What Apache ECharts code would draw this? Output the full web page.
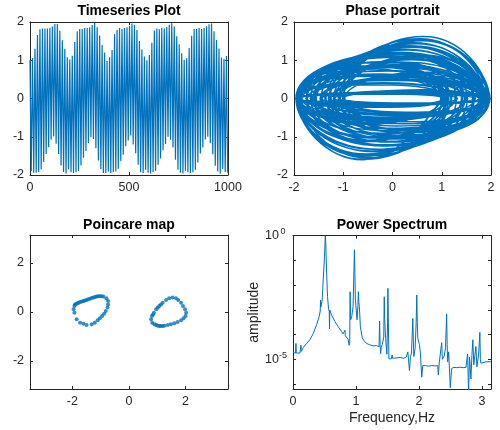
<!DOCTYPE html>
<html>
<head>
<meta charset="utf-8">
<script src="https://cdn.jsdelivr.net/npm/echarts@6/dist/echarts.min.js"></script>
<style>
html, body { margin: 0; padding: 0; background: #fff; }
#main { width: 500px; height: 430px; }
</style>
</head>
<body>
<div id="main"></div>
<script>
// timeseries: one value per half cycle (max / min), sampled every halfPeriod
const halfPeriod = 6.28;
const peakX = [
  1.00,-1.90,1.06,-1.94,1.30,-1.94,1.66,-1.92,1.81,-1.85,1.83,-1.66,1.83,-1.45,1.83,-1.27,1.85,-1.08,1.88,-0.99,1.95,-1.18,1.95,-1.45,1.77,-1.75,1.52,-1.92,1.30,-1.96,1.08,
  -1.85,1.02,-1.93,1.12,-1.95,1.48,-1.93,1.76,-1.90,1.82,-1.75,1.82,-1.55,1.84,-1.37,1.84,-1.17,1.86,-1.01,1.92,-1.06,1.98,-1.30,1.86,-1.62,1.65,-1.85,1.40,-1.95,1.20,-1.95,
  0.98,-1.91,1.08,-1.95,1.27,-1.93,1.68,-1.91,1.80,-1.84,1.84,-1.64,1.82,-1.47,1.84,-1.25,1.86,-1.10,1.90,-0.97,1.96,-1.20,1.93,-1.43,1.79,-1.73,1.50,-1.93,1.28,-1.95,1.10,
  -1.86,1.00,-1.94,1.14,-1.96,1.46,-1.92,1.78,-1.89,1.83,-1.73,1.81,-1.57,1.85,-1.35,1.83,-1.19,1.87,-1.00,1.93,-1.08,1.97,-1.28,1.88,-1.60,1.63,-1.86,1.42,-1.94,1.18,-1.96,
  1.01,-1.89,1.05,-1.93,1.32,-1.95,1.64,-1.93,1.82,-1.86,1.82,-1.67,1.84,-1.44,1.82,-1.28,1.84,-1.07,1.89,-1.00,1.94,-1.17,1.96,-1.46,1.76,-1.76,1.53,-1.91,1.31,-1.97,1.07,
  -1.84,1.03,-1.92,1.11,-1.94
];
// value between two extremes, and the velocity there
const midX = [
  -0.60,-0.27,-0.59,-0.17,-0.47,0.01,-0.28,0.09,-0.17,0.14,-0.07,0.24,0.04,0.34,0.13,0.44,0.24,0.55,0.30,0.63,0.24,0.54,0.10,0.31,-0.14,0.03,-0.35,-0.16,-0.48,-0.29,-0.53,
  -0.27,-0.61,-0.26,-0.57,-0.09,-0.38,0.07,-0.22,0.11,-0.12,0.19,-0.02,0.30,0.09,0.39,0.19,0.50,0.28,0.61,0.28,0.61,0.19,0.43,-0.03,0.17,-0.25,-0.08,-0.43,-0.23,-0.53,-0.33,
  -0.60,-0.27,-0.59,-0.17,-0.47,0.01,-0.28,0.09,-0.17,0.14,-0.07,0.24,0.04,0.34,0.13,0.44,0.24,0.55,0.30,0.63,0.24,0.54,0.10,0.31,-0.14,0.03,-0.35,-0.16,-0.48,-0.29,-0.53,
  -0.27,-0.61,-0.26,-0.57,-0.09,-0.38,0.07,-0.22,0.11,-0.12,0.19,-0.02,0.30,0.09,0.39,0.19,0.50,0.28,0.61,0.28,0.61,0.19,0.43,-0.03,0.17,-0.25,-0.08,-0.43,-0.23,-0.53,-0.33,
  -0.60,-0.27,-0.59,-0.17,-0.47,0.01,-0.28,0.09,-0.17,0.14,-0.07,0.24,0.04,0.34,0.13,0.44,0.24,0.55,0.30,0.63,0.24,0.54,0.10,0.31,-0.14,0.03,-0.35,-0.16,-0.48,-0.29,-0.53,
  -0.27,-0.61,-0.26,-0.57
];
const midV = [
  -1.60,0.86,-1.59,0.94,-1.49,1.10,-1.33,1.18,-1.24,1.21,-1.14,1.29,-1.06,1.38,-0.99,1.46,-0.89,1.56,-0.84,1.62,-0.89,1.55,-1.01,1.36,-1.21,1.12,-1.39,0.95,-1.49,0.85,-1.55,
  0.62,-1.13,0.62,-1.11,0.72,-1.00,0.81,-0.91,0.84,-0.84,0.89,-0.78,0.95,-0.72,1.01,-0.66,1.07,-0.61,1.13,-0.61,1.14,-0.66,1.03,-0.79,0.87,-0.92,0.73,-1.03,0.64,-1.09,0.58,
  -0.68,0.36,-0.68,0.40,-0.63,0.47,-0.56,0.50,-0.53,0.51,-0.49,0.55,-0.45,0.59,-0.42,0.62,-0.38,0.66,-0.36,0.69,-0.38,0.66,-0.43,0.58,-0.51,0.48,-0.59,0.41,-0.63,0.36,-0.66,
  0.82,-1.51,0.83,-1.48,0.96,-1.33,1.08,-1.21,1.12,-1.12,1.18,-1.04,1.27,-0.96,1.34,-0.88,1.43,-0.81,1.51,-0.81,1.52,-0.88,1.37,-1.05,1.16,-1.23,0.97,-1.37,0.85,-1.45,0.77,
  -0.23,0.12,-0.23,0.13,-0.21,0.16,-0.19,0.17,-0.18,0.17,-0.16,0.18,-0.15,0.20,-0.14,0.21,-0.13,0.22,-0.12,0.23,-0.13,0.22,-0.14,0.19,-0.17,0.16,-0.20,0.14,-0.21,0.12,-0.22,
  0.62,-1.13,0.62,-1.11
];

// poincare section points [x, v]
const poincareLeft = [
  [-1.93,0.24],[-1.96,0.11],[-1.93,-0.03],[-1.85,-0.30],[-1.73,-0.44],[-1.61,-0.48],[-1.50,-0.53],[-1.32,-0.50],
  [-1.21,-0.44],[-1.11,-0.34],[-1.03,-0.26],[-0.95,-0.16],[-0.88,-0.07],[-0.82,0.04],[-0.76,0.18],[-0.74,0.31],
  [-0.74,0.45],[-0.80,0.56],[-0.91,0.63],[-0.97,0.64],[-1.03,0.64],[-1.09,0.64],[-1.15,0.63],[-1.20,0.61],
  [-1.26,0.59],[-1.32,0.57],[-1.38,0.54],[-1.44,0.52],[-1.50,0.49],[-1.56,0.47],[-1.61,0.45],[-1.67,0.43],
  [-1.73,0.41],[-1.78,0.38],[-1.82,0.36],[-1.87,0.33],[-1.91,0.31]
];
const poincareRight = [
  [0.78,-0.30],[0.82,-0.44],[0.90,-0.50],[0.96,-0.53],[1.02,-0.56],[1.08,-0.57],[1.13,-0.57],[1.19,-0.57],
  [1.25,-0.56],[1.37,-0.53],[1.48,-0.50],[1.60,-0.46],[1.72,-0.41],[1.84,-0.34],[1.93,-0.26],[2.00,-0.16],
  [2.02,-0.03],[1.98,0.11],[1.91,0.24],[1.84,0.38],[1.74,0.49],[1.66,0.56],[1.54,0.59],[1.42,0.56],
  [1.31,0.49],[1.19,0.38],[1.13,0.31],[1.07,0.24],[1.02,0.18],[0.96,0.11],[0.88,-0.03],[0.85,-0.10],[0.81,-0.16]
];

// power spectrum
const specF = [
  0.000,0.016,0.040,0.047,0.052,0.080,0.110,0.120,0.126,0.132,0.163,0.216,0.269,0.321,0.374,0.416,0.432,0.437,0.442,0.463,
  0.479,0.500,0.512,0.520,0.532,0.548,0.564,0.575,0.579,0.584,0.590,0.611,0.664,0.716,0.769,0.795,0.820,0.825,0.830,0.837,
  0.874,0.890,0.900,0.906,0.912,0.916,0.932,0.953,0.968,0.975,0.982,0.990,1.016,1.030,1.037,1.045,1.053,1.069,1.100,1.138,
  1.174,1.216,1.269,1.322,1.348,1.365,1.374,1.382,1.390,1.400,1.416,1.440,1.448,1.455,1.469,1.490,1.500,1.506,1.512,1.522,
  1.559,1.574,1.580,1.596,1.650,1.700,1.750,1.796,1.822,1.848,1.864,1.880,1.901,1.917,1.938,1.954,1.964,1.972,1.980,2.006,
  2.020,2.043,2.059,2.100,2.150,2.200,2.260,2.296,2.306,2.322,2.359,2.370,2.385,2.401,2.420,2.438,2.446,2.454,2.470,2.496,
  2.517,2.550,2.600,2.650,2.700,2.744,2.770,2.786,2.800,2.807,2.823,2.839,2.854,2.868,2.875,2.902,2.918,2.944,2.965,2.973,
  2.981,3.007,3.060,3.140
];
const specA = [
  1.9e-5,1.9e-5,1.8e-5,4.4e-5,1.8e-5,1.7e-5,1.8e-5,1.9e-5,3.7e-5,2.1e-5,3.0e-5,4.4e-5,6.3e-5,1.1e-4,2.5e-4,5.4e-4,9.0e-4,2.5e-3,1.3e-3,2.5e-3,
  1.6e-2,0.14,1.0,0.5,4.1e-2,3.4e-3,1.1e-3,9.0e-4,1.7e-4,9.8e-4,9.8e-4,6.3e-4,3.4e-4,2.1e-4,1.35e-4,1.07e-4,1.0e-4,1.5e-4,9.0e-5,8.9e-5,
  6.6e-5,3.7e-5,4.5e-5,5.4e-3,6.0e-4,4.0e-4,5.4e-4,1.35e-3,5.0e-2,0.27,3.0e-2,2.5e-3,4.0e-4,1.5e-3,5.4e-3,2.0e-3,1.35e-3,2.1e-4,7.2e-5,5.2e-5,
  4.3e-5,3.9e-5,3.5e-5,3.6e-5,3.9e-5,3.2e-5,3.5e-4,4.0e-5,1.7e-5,3.0e-5,3.9e-5,8.0e-5,3.4e-3,4.0e-4,7.0e-5,1.6e-5,3.0e-4,7.4e-3,5.0e-4,1.05e-5,
  1.05e-5,1.5e-5,1.1e-5,1.26e-5,1.15e-5,1.2e-5,1.1e-5,1.2e-5,2.0e-5,3.5e-6,1.3e-5,1.8e-5,4.5e-4,1.3e-5,2.8e-5,3.0e-4,4.0e-3,3.0e-4,7.2e-5,3.9e-5,
  2.0e-5,1.9e-6,5.5e-6,5.6e-6,5.3e-6,5.6e-6,5.4e-6,5.6e-6,2.3e-6,7.9e-6,4.7e-5,1.0e-5,1.2e-5,1.4e-5,3.0e-5,6.8e-4,4.0e-5,8.0e-6,2.0e-5,7.1e-7,
  4.3e-6,4.7e-6,4.6e-6,4.8e-6,4.6e-6,4.7e-6,1.66e-5,4.0e-7,1.2e-5,8.0e-6,1.6e-6,1.5e-5,6.2e-5,6.0e-6,5.0e-6,3.3e-5,5.0e-6,1.5e-5,1.23e-4,1.0e-5,
  7.0e-6,7.9e-6,7.9e-6,8.0e-6
];

const decadeTicks = [1e-6, 1e-5, 1e-4, 1e-3, 1e-2, 1e-1, 1];
const decadeLabels = [1e-5, 1];

const BLUE = '#0072BD';
const AX = '#262626';
const FONT = 'Liberation Sans, Arial, sans-serif';

// build the series tables
let tsData = [];
let phaseData = [];
for (let k = 0; k < peakX.length; k++) {
    tsData.push([k * halfPeriod, peakX[k]]);
    phaseData.push([peakX[k], 0]);
    if (k < midX.length) {
        tsData.push([k * halfPeriod + halfPeriod / 2, midX[k]]);
        phaseData.push([midX[k], midV[k]]);
    }
}
let specData = specF.map((f, i) => [f, specA[i]]);

// one axis of a boxed matlab-like plot
function axis(grid, pos, min, max, ticks, labels, mirror) {
    let a = {
        type: 'value',
        gridIndex: grid,
        position: pos,
        min: min,
        max: max,
        axisLine: { show: true, onZero: false, lineStyle: { color: AX, width: 1 } },
        axisTick: { show: true, inside: true, length: 3, lineStyle: { color: AX } },
        axisLabel: {
            show: !mirror, color: AX, fontSize: 12.5, fontFamily: FONT, margin: 6,
            formatter: function(v) { return String(v); }
        },
        splitLine: { show: false }
    };
    if (typeof ticks === 'number') {
        a.interval = ticks;
    } else {
        a.axisTick.customValues = ticks;
        a.axisLabel.customValues = labels || ticks;
    }
    return a;
}

function title(text, x, y) {
    return {
        text: text, left: x, top: y, textAlign: 'center', padding: 0,
        textStyle: { fontSize: 14, fontWeight: 'bold', color: '#000', fontFamily: FONT }
    };
}

let specY = axis(3, 'left', 6.31e-7, 1, decadeTicks, decadeLabels, false);
specY.type = 'log';
specY.logBase = 10;
specY.axisLabel.formatter = function(v) {
    return '{b|10}{s|' + Math.round(Math.log10(v)) + '}';
};
specY.axisLabel.rich = {
    b: { fontSize: 12.5, color: AX, fontFamily: FONT },
    s: { fontSize: 9, color: AX, fontFamily: FONT, padding: [0, 0, 8, 0], width: 8, align: 'left' }
};
specY.name = 'amplitude';
specY.nameLocation = 'middle';
specY.nameGap = 30;
specY.nameTextStyle = { fontSize: 14, color: AX, fontFamily: FONT };
let specY2 = axis(3, 'right', 6.31e-7, 1, decadeTicks, null, true);
specY2.type = 'log';
specY2.logBase = 10;

let specX = axis(3, 'bottom', 0, Math.PI, [0, 1, 2, 3], null, false);
specX.name = 'Frequency,Hz';
specX.nameLocation = 'middle';
specX.nameGap = 22;
specX.nameTextStyle = { fontSize: 14, color: AX, fontFamily: FONT };

const chart = echarts.init(document.getElementById('main'), null, { renderer: 'canvas' });
chart.setOption({
    backgroundColor: '#fff',
    animation: false,
    title: [
        title('Timeseries Plot', 129, 4),
        title('Phase portrait', 392.5, 4),
        title('Poincare map', 129, 218),
        title('Power Spectrum', 392, 218)
    ],
    grid: [
        { left: 30, top: 22, width: 198, height: 153 },
        { left: 294, top: 22, width: 197, height: 153 },
        { left: 30, top: 235, width: 198, height: 154 },
        { left: 293, top: 235.7, width: 198, height: 153.3 }
    ],
    xAxis: [
        axis(0, 'bottom', 0, 1000, 500),
        axis(0, 'top', 0, 1000, 500, null, true),
        axis(1, 'bottom', -2, 2, 1),
        axis(1, 'top', -2, 2, 1, null, true),
        axis(2, 'bottom', -3.5, 3.5, [-2, 0, 2]),
        axis(2, 'top', -3.5, 3.5, [-2, 0, 2], null, true),
        specX,
        axis(3, 'top', 0, Math.PI, [0, 1, 2, 3], null, true)
    ],
    yAxis: [
        axis(0, 'left', -2, 2, 1),
        axis(0, 'right', -2, 2, 1, null, true),
        axis(1, 'left', -2, 2, 1),
        axis(1, 'right', -2, 2, 1, null, true),
        axis(2, 'left', -Math.PI, Math.PI, [-2, 0, 2]),
        axis(2, 'right', -Math.PI, Math.PI, [-2, 0, 2], null, true),
        specY,
        specY2
    ],
    series: [
        {
            type: 'line', xAxisIndex: 0, yAxisIndex: 0, data: tsData,
            showSymbol: false, symbol: 'none', lineStyle: { color: BLUE, width: 1.2 }
        },
        {
            type: 'line', xAxisIndex: 2, yAxisIndex: 2, data: phaseData, smooth: 0.55,
            showSymbol: false, symbol: 'none', lineStyle: { color: BLUE, width: 1.5 }
        },
        {
            type: 'scatter', xAxisIndex: 4, yAxisIndex: 4, data: poincareLeft.concat(poincareRight),
            symbol: 'circle', symbolSize: 4, itemStyle: { color: BLUE }
        },
        {
            type: 'line', xAxisIndex: 6, yAxisIndex: 6, data: specData,
            showSymbol: false, symbol: 'none', lineStyle: { color: BLUE, width: 1 }
        }
    ]
});
</script>
</body>
</html>
